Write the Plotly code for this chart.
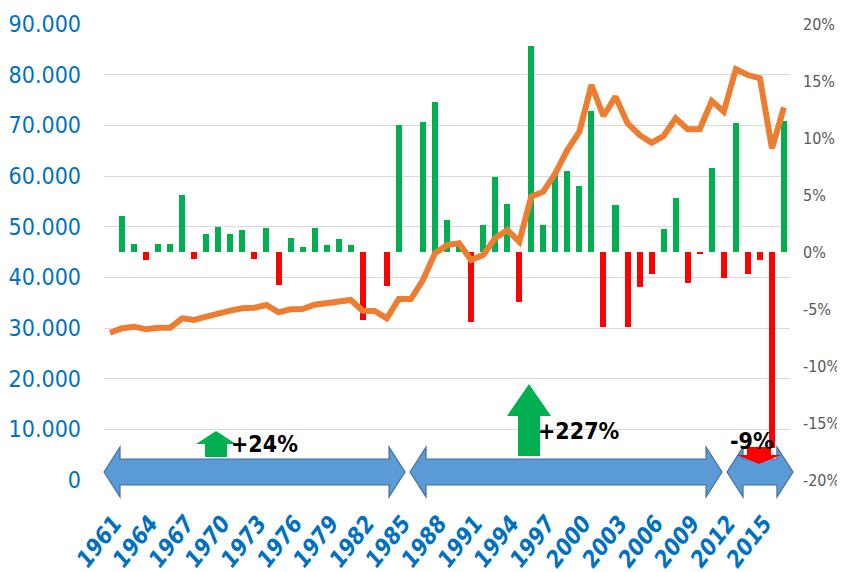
import plotly.graph_objects as go

# production per year (left axis)
years_line = list(range(1960, 2017))
production = [29070, 29940, 30260, 29740, 30060, 30060, 31910, 31580, 32230, 32900,
              33420, 33880, 34010, 34540, 33090, 33690, 33750, 34600, 34870, 35190,
              35530, 33420, 33360, 31910, 35720, 35720, 39470, 44740, 46380, 46710,
              43420, 44410, 47700, 49340, 47030, 55910, 56900, 60530, 65130, 68750,
              77960, 71840, 75650, 70400, 68090, 66570, 67890, 71390, 69220, 69220,
              74800, 72690, 81060, 79930, 79280, 65470, 73560]

# yearly change in % (right axis)
years_bar = list(range(1961, 2017))
growth = [3.2, 0.7, -0.7, 0.7, 0.7, 5.0, -0.6, 1.6, 2.2, 1.6,
          1.9, -0.6, 2.1, -2.9, 1.25, 0.4, 2.1, 0.6, 1.1, 0.6,
          -6.0, 0.0, -3.0, 11.1, 0.0, 11.4, 13.2, 2.8, 0.5, -6.1,
          2.35, 6.6, 4.2, -4.4, 18.05, 2.35, 6.8, 7.1, 5.8, 12.35,
          -6.6, 4.1, -6.6, -3.1, -1.9, 2.0, 4.7, -2.7, -0.1, 7.4,
          -2.3, 11.3, -1.9, -0.7, -17.2, 11.5]

year_ticks = list(range(1961, 2016, 3))
left_ticks = list(range(0, 90001, 10000))
right_ticks = [-20, -15, -10, -5, 0, 5, 10, 15, 20]
right_labels = [f"{v}%" for v in right_ticks]

# period summaries shown under the chart
period_labels = ["+24%", "+227%", "-9%"]

NARROW = "DejaVu Sans Condensed, Liberation Sans, sans-serif"
BLUE = "#0070C0"

# the page body has an 8px margin, so the figure is drawn 8px in from the corner
OFF = 8
W, H = 845 - OFF, 572 - OFF
# plot area in screen pixels
L, R, T, B = 104, 790, 24, 480


def px(x, y):
    # screen pixel position -> paper coordinates
    return (x - L) / (R - L), (B - y) / (B - T)


def path(points):
    pts = [px(x, y) for x, y in points]
    return "M " + " L ".join(f"{a:.4f},{b:.4f}" for a, b in pts) + " Z"


def double_arrow(x0, x1, yc, head=16, hh=25, sh=13):
    return path([(x0, yc), (x0 + head, yc - hh), (x0 + head, yc - sh),
                 (x1 - head, yc - sh), (x1 - head, yc - hh), (x1, yc),
                 (x1 - head, yc + hh), (x1 - head, yc + sh), (x0 + head, yc + sh),
                 (x0 + head, yc + hh)])


def up_arrow(xc, top, head_bot, bottom, hw, sw):
    return path([(xc, top), (xc + hw, head_bot), (xc + sw, head_bot), (xc + sw, bottom),
                 (xc - sw, bottom), (xc - sw, head_bot), (xc - hw, head_bot)])


def down_arrow(xc, top, head_top, tip, hw, sw):
    return path([(xc - sw, top), (xc + sw, top), (xc + sw, head_top), (xc + hw, head_top),
                 (xc, tip), (xc - hw, head_top), (xc - sw, head_top)])


fig = go.Figure()

fig.add_trace(go.Bar(
    x=years_bar, y=[g / 100 for g in growth],
    marker=dict(color=["#00B050" if g >= 0 else "#FF0000" for g in growth], line=dict(width=0)),
    width=0.5, yaxis="y", showlegend=False,
))

fig.add_trace(go.Scatter(
    x=years_line, y=production, mode="lines",
    line=dict(color="#ED7D31", width=6), yaxis="y2", showlegend=False,
))

shapes = []
blue = dict(type="path", xref="paper", yref="paper", fillcolor="#5B9BD5",
            line=dict(color="#41719C", width=1.2))
shapes.append(dict(blue, path=double_arrow(104, 405, 472)))
shapes.append(dict(blue, path=double_arrow(410, 722, 472)))
shapes.append(dict(blue, path=double_arrow(727, 793, 472)))
green = dict(type="path", xref="paper", yref="paper", fillcolor="#00B050", line=dict(width=0))
shapes.append(dict(green, path=up_arrow(216, 431, 444, 457, 20, 11)))
shapes.append(dict(green, path=up_arrow(529, 384, 416, 456, 22, 11)))
red = dict(type="path", xref="paper", yref="paper", fillcolor="#FF0000", line=dict(width=0))
shapes.append(dict(red, path=down_arrow(759, 447, 455, 464, 22, 12)))

annotations = []
for text, (x, y) in zip(period_labels, [(264, 444), (579, 431), (752, 441)]):
    ax, ay = px(x, y)
    annotations.append(dict(text=text, x=ax, y=ay, xref="paper", yref="paper",
                            showarrow=False, xanchor="center", yanchor="middle",
                            font=dict(family=NARROW, size=23, color="black", weight="bold")))

fig.update_layout(
    width=W, height=H,
    margin=dict(l=L - OFF, r=W - (R - OFF), t=T - OFF, b=H - (B - OFF), pad=0),
    plot_bgcolor="white", paper_bgcolor="white",
    bargap=0, shapes=shapes, annotations=annotations,
    xaxis=dict(range=[1959.5, 2016.5], tickvals=year_ticks, tickangle=-52,
               showgrid=False, zeroline=False, showline=False, ticks="",
               ticklabelstandoff=24, ticklabelshift=-8, automargin=False,
               tickfont=dict(family=NARROW, size=23, color=BLUE, weight="bold", style="italic")),
    yaxis=dict(range=[-0.2, 0.2], side="right", tickvals=[v / 100 for v in right_ticks],
               ticktext=right_labels, showgrid=False, zeroline=False, ticks="",
               ticklabelstandoff=12, automargin=False,
               tickfont=dict(family=NARROW, size=16, color="#595959")),
    yaxis2=dict(range=[0, 90000], side="left", overlaying="y", tickvals=left_ticks,
                ticktext=[f"{v:,}".replace(",", ".") for v in left_ticks],
                showgrid=True, gridcolor="#D9D9D9", gridwidth=1.3, zeroline=False, ticks="",
                ticklabelstandoff=22, automargin=False,
                tickfont=dict(family=NARROW, size=23, color=BLUE)),
)

fig.write_html("out.html")
